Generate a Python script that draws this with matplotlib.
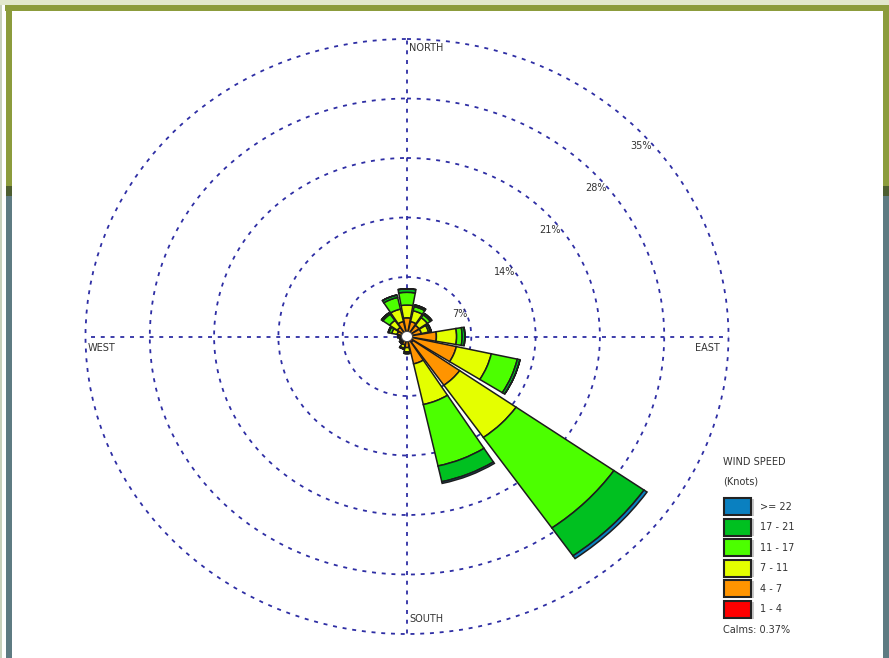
import numpy as np
import matplotlib
matplotlib.use('Agg')
import matplotlib.pyplot as plt
from matplotlib.patches import Rectangle

# wind directions (deg from north, clockwise)
directions = ['N', 'NNE', 'NE', 'ENE', 'E', 'ESE', 'SE', 'SSE',
              'S', 'SSW', 'SW', 'WSW', 'W', 'WNW', 'NW', 'NNW']
dir_deg = np.arange(16) * 22.5

# frequency (%) per speed class, one value per direction
freq_1_4 = [0.4, 0.4, 0.4, 0.3, 0.3, 0.4, 0.8, 0.6, 0.3, 0.3, 0.2, 0.2, 0.2, 0.3, 0.3, 0.4]
freq_4_7 = [1.8, 1.4, 1.2, 1.3, 2.9, 5.1, 6.2, 2.7, 1.0, 0.7, 0.5, 0.4, 0.5, 0.8, 1.0, 1.4]
freq_7_11 = [1.5, 1.3, 1.1, 0.8, 2.2, 3.9, 7.5, 4.9, 0.5, 0.4, 0.2, 0.1, 0.2, 0.6, 1.0, 1.5]
freq_11_17 = [1.5, 0.5, 0.4, 0.2, 0.6, 2.9, 13.0, 7.4, 0.2, 0.1, 0.1, 0.1, 0.1, 0.3, 0.9, 1.4]
freq_17_21 = [0.4, 0.2, 0.2, 0.1, 0.3, 0.3, 4.0, 1.9, 0.0, 0.0, 0.0, 0.0, 0.0, 0.1, 0.2, 0.3]
freq_22 = [0.0, 0.0, 0.0, 0.0, 0.0, 0.0, 0.4, 0.2, 0.0, 0.0, 0.0, 0.0, 0.0, 0.0, 0.0, 0.0]

speed_labels = ['1 - 4', '4 - 7', '7 - 11', '11 - 17', '17 - 21', '>= 22']
speed_colors = ['#ff0000', '#ff9400', '#e4ff00', '#4cff00', '#00c020', '#0a80c0']
calms = 0.37

ring_values = [7, 14, 21, 28, 35]

W, H = 889, 658
fig = plt.figure(figsize=(W / 100, H / 100), dpi=100)

# overlay axes in pixel coords for frame and legend
bg = fig.add_axes([0, 0, 1, 1], zorder=0)
bg.set_xlim(0, W)
bg.set_ylim(H, 0)
bg.axis('off')

# page frame
bg.add_patch(Rectangle((0, 0), W, 5, color='#e2e8cc', lw=0))
bg.add_patch(Rectangle((5, 5), W - 5, 6, color='#8c9c3c', lw=0))
for x0 in (6, 883):
    bg.add_patch(Rectangle((x0, 5), 6, 181, color='#8c9c3c', lw=0))
    bg.add_patch(Rectangle((x0, 186), 6, 10, color='#4d5e30', lw=0))
    bg.add_patch(Rectangle((x0, 196), 6, H - 196, color='#5e7b82', lw=0))
bg.add_patch(Rectangle((0, 5), 1.5, H, color='#c9d2bc', lw=0))

# legend
bg.text(723, 462, 'WIND SPEED', fontsize=7, color='#333333', va='center', ha='left')
bg.text(723, 481, '(Knots)', fontsize=7, color='#333333', va='center', ha='left')
for i, (lab, col) in enumerate(zip(speed_labels[::-1], speed_colors[::-1])):
    yc = 506.5 + i * 20.6
    bg.add_patch(Rectangle((751, yc - 8), 2.5, 17, color='#c8c8c8', lw=0))
    bg.add_patch(Rectangle((723.5, yc - 8.5), 27.5, 17, facecolor=col,
                           edgecolor='#222222', lw=1.5))
    bg.text(760, yc, lab, fontsize=7, color='#333333', va='center', ha='left')
bg.text(723, 630, f'Calms: {calms:.2f}%', fontsize=7, color='#333333',
        va='center', ha='left')

# wind rose: polar axes stretched to the ellipse of the original
cx, cy = 407, 336.5
rx, ry = 321.5, 297.5
ax = fig.add_axes([(cx - rx) / W, (H - cy - ry) / H, 2 * rx / W, 2 * ry / H],
                  projection='polar', zorder=1)
ax.set_aspect('auto')
ax.set_theta_zero_location('N')
ax.set_theta_direction(-1)
ax.set_rlim(0, 35)
ax.patch.set_alpha(0)
ax.spines['polar'].set_visible(False)

ax.set_xticks(np.deg2rad([0, 90, 180, 270]))
ax.set_xticklabels([''] * 4)
ax.set_yticks(ring_values)
ax.set_yticklabels([''] * len(ring_values))
ax.grid(True, color='#2e2ea4', linestyle=(0, (2.2, 3.2)), linewidth=1.3)
for gl in ax.yaxis.get_gridlines() + ax.xaxis.get_gridlines():
    gl.set_clip_on(False)

theta = np.deg2rad(dir_deg)
width = np.deg2rad(20)
bottom = np.zeros(16)
for vals, col in zip([freq_1_4, freq_4_7, freq_7_11, freq_11_17, freq_17_21, freq_22],
                     speed_colors):
    vals = np.array(vals)
    ax.bar(theta, vals, width=width, bottom=bottom, color=col,
           edgecolor='#1c1c1c', linewidth=1.1, zorder=3)
    bottom += vals

# calm circle
tc = np.linspace(0, 2 * np.pi, 120)
ax.fill(tc, np.full_like(tc, 0.6), facecolor='white', edgecolor='#444444',
        linewidth=0.8, zorder=4)

# ring labels
for rv in ring_values:
    ax.annotate(f'{rv}%', xy=(np.deg2rad(45), rv), xytext=(5, -14),
                textcoords='offset points', fontsize=7, color='#333333',
                ha='center', va='center')

# direction labels
lab_kw = dict(textcoords='offset points', fontsize=7, color='#333333')
ax.annotate('NORTH', xy=(0, 35), xytext=(1.5, -3), ha='left', va='top', **lab_kw)
ax.annotate('SOUTH', xy=(np.pi, 35), xytext=(1.5, 8.5), ha='left', va='baseline', **lab_kw)
ax.annotate('WEST', xy=(1.5 * np.pi, 35), xytext=(1.5, -4.5), ha='left', va='top', **lab_kw)
ax.annotate('EAST', xy=(0.5 * np.pi, 35), xytext=(-6, -4.5), ha='right', va='top', **lab_kw)

fig.savefig('out.png', dpi=100)
